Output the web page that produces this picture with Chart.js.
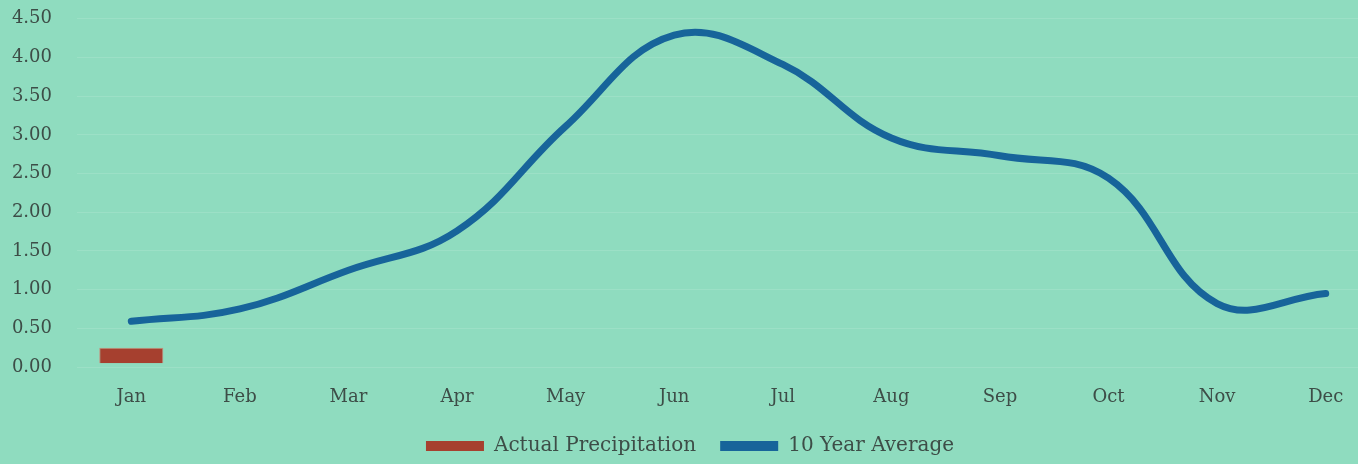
<!DOCTYPE html>
<html>
<head>
<meta charset="utf-8">
<script src="https://cdn.jsdelivr.net/npm/chart.js@4"></script>
<style>
  html, body { margin: 0; padding: 0; background: #8fdcbf; overflow: hidden; }
  #wrap { width: 1390px; height: 483px; margin-top: -17px; }
</style>
</head>
<body>
<div id="wrap"><canvas id="chart" width="1390" height="483"></canvas></div>
<script>
/* Data */
const months = ['Jan', 'Feb', 'Mar', 'Apr', 'May', 'Jun', 'Jul', 'Aug', 'Sep', 'Oct', 'Nov', 'Dec'];
const actualPrecip = [[0.05, 0.25], null, null, null, null, null, null, null, null, null, null, null];
const tenYearAvg = [0.59, 0.75, 1.25, 1.76, 3.11, 4.29, 3.91, 2.96, 2.73, 2.44, 0.82, 0.95];
const yTicks = [0, 0.5, 1, 1.5, 2, 2.5, 3, 3.5, 4, 4.5];

const TEXT = '#3d4d47';
const FONT = "'DejaVu Serif', 'Liberation Serif', serif";

new Chart(document.getElementById('chart'), {
  data: {
    labels: months,
    datasets: [
      {
        type: 'line',
        label: '10 Year Average',
        data: tenYearAvg,
        borderColor: '#17649a',
        backgroundColor: '#17649a',
        borderWidth: 7,
        borderCapStyle: 'round',
        tension: 0.4,
        pointRadius: 0,
        order: 1,
      },
      {
        type: 'bar',
        label: 'Actual Precipitation',
        data: actualPrecip,
        backgroundColor: '#a6402f',
        borderColor: '#c98a78',
        borderWidth: 1,
        barPercentage: 0.59,
        categoryPercentage: 1,
        order: 2,
      },
    ],
  },
  options: {
    responsive: false,
    animation: false,
    layout: { padding: { top: 0, left: 0, right: 10, bottom: 0 } },
    scales: {
      x: {
        offset: true,
        grid: { display: false },
        border: { display: false },
        ticks: { color: TEXT, font: { family: FONT, size: 18 }, padding: 12 },
        afterFit: s => { s.height = 45; },
      },
      y: {
        min: 0,
        max: 4.5,
        afterBuildTicks: s => { s.ticks = yTicks.map(v => ({ value: v })); },
        grid: { color: 'rgba(255,255,255,0.12)', drawTicks: false },
        border: { display: false },
        ticks: {
          color: TEXT,
          font: { family: FONT, size: 18 },
          padding: 25,
          callback: v => Number(v).toFixed(2),
        },
        afterFit: s => { s.width = 77; },
      },
    },
    plugins: {
      legend: {
        position: 'bottom',
        reverse: true,
        labels: {
          color: TEXT,
          font: { family: FONT, size: 20 },
          boxWidth: 58,
          boxHeight: 10,
          padding: 24,
          generateLabels: chart => {
            const items = Chart.defaults.plugins.legend.labels.generateLabels(chart);
            items.forEach(it => { it.lineWidth = 0; });
            return items;
          },
        },
      },
      tooltip: { enabled: false },
    },
  },
});
</script>
</body>
</html>
